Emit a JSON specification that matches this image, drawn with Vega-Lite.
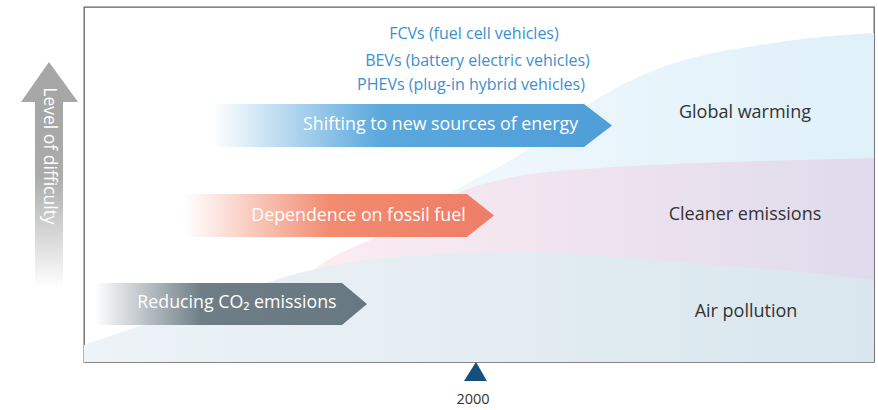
{
  "$schema": "https://vega.github.io/schema/vega-lite/v6.json",
  "width": 790,
  "height": 355,
  "autosize": {"type": "none"},
  "padding": {"left": 84, "top": 7, "right": 4, "bottom": 48},
  "background": "white",
  "view": {"stroke": "#5f5f5f", "strokeWidth": 1.3},
  "config": {"text": {"font": "Open Sans"}},
  "datasets": {
    "warming": [
      {"year": 1978.07, "level": 20.28},
      {"year": 1988.09, "level": 35.77},
      {"year": 1996.87, "level": 47.61},
      {"year": 2006.89, "level": 60.28},
      {"year": 2014.41, "level": 72.96},
      {"year": 2018.17, "level": 77.75},
      {"year": 2023.18, "level": 82.82},
      {"year": 2028.19, "level": 86.2},
      {"year": 2035.71, "level": 89.3},
      {"year": 2043.23, "level": 91.55},
      {"year": 2050, "level": 92.68}
    ],
    "cleaner": [
      {"year": 1976.82, "level": 20.28},
      {"year": 1979.7, "level": 25.92},
      {"year": 1988.59, "level": 36.34},
      {"year": 1995.61, "level": 45.35},
      {"year": 1999.0, "level": 48.73},
      {"year": 2004.76, "level": 52.11},
      {"year": 2015.66, "level": 54.65},
      {"year": 2028.19, "level": 56.06},
      {"year": 2040.73, "level": 56.9},
      {"year": 2050, "level": 57.46}
    ],
    "air": [
      {"year": 1951, "level": 4.79},
      {"year": 1965.54, "level": 15.77},
      {"year": 1979.45, "level": 25.92},
      {"year": 1988.59, "level": 29.3},
      {"year": 1996.87, "level": 30.42},
      {"year": 2006.89, "level": 30.99},
      {"year": 2015.66, "level": 29.86},
      {"year": 2028.19, "level": 27.61},
      {"year": 2040.73, "level": 25.35},
      {"year": 2050, "level": 23.1}
    ],
    "arrows": [
      {"arrow": "co2", "year": 1952.38, "level": 22.25, "level2": 10.42},
      {"arrow": "co2", "year": 1983.33, "level": 22.25, "level2": 10.42},
      {"arrow": "co2", "year": 1986.47, "level": 16.34, "level2": 16.34},
      {"arrow": "fossil", "year": 1963.66, "level": 47.32, "level2": 35.21},
      {"arrow": "fossil", "year": 1998.99, "level": 47.32, "level2": 35.21},
      {"arrow": "fossil", "year": 2002.38, "level": 41.27, "level2": 41.27},
      {"arrow": "energy", "year": 1967.04, "level": 72.68, "level2": 60.56},
      {"arrow": "energy", "year": 2013.66, "level": 72.68, "level2": 60.56},
      {"arrow": "energy", "year": 2017.17, "level": 66.62, "level2": 66.62},
      {"arrow": "marker", "year": 1998.62, "level": -5.35, "level2": -5.35},
      {"arrow": "marker", "year": 2000.12, "level": 0, "level2": -5.35},
      {"arrow": "marker", "year": 2001.5, "level": -5.35, "level2": -5.35}
    ],
    "difficultyBody": [
      {"year": 1944.86, "year2": 1948.37, "level": 73.24, "level2": 20.85}
    ],
    "difficultyHead": [
      {"level": 73.24, "year": 1943.11, "year2": 1950.25},
      {"level": 84.51, "year": 1946.61, "year2": 1946.61}
    ],
    "labels": [
      {"group": "arrow", "text": "Shifting to new sources of energy", "year": 1995.68, "level": 66.76},
      {"group": "arrow", "text": "Dependence on fossil fuel", "year": 1985.4, "level": 41.13},
      {"group": "arrow", "text": "Reducing CO₂ emissions", "year": 1970.17, "level": 16.6},
      {"group": "band", "text": "Global warming", "year": 2033.83, "level": 70.14},
      {"group": "band", "text": "Cleaner emissions", "year": 2033.83, "level": 41.41},
      {"group": "band", "text": "Air pollution", "year": 2033.96, "level": 14.08},
      {"group": "top", "text": "FCVs (fuel cell vehicles)", "year": 1999.87, "level": 92.39},
      {"group": "top", "text": "BEVs (battery electric vehicles)", "year": 2000.31, "level": 84.79},
      {"group": "top", "text": "PHEVs (plug-in hybrid vehicles)", "year": 1999.5, "level": 78.03},
      {"group": "axis", "text": "2000", "year": 1999.75, "level": -10.7},
      {"group": "vertical", "text": "Level of difficulty", "year": 1946.61, "level": 58.03}
    ]
  },
  "encoding": {
    "x": {"field": "year", "type": "quantitative", "scale": {"domain": [1951, 2050], "nice": false, "zero": false}, "axis": null},
    "y": {"field": "level", "type": "quantitative", "scale": {"domain": [0, 100], "nice": false, "zero": false}, "axis": null}
  },
  "layer": [
    {
      "data": {"name": "warming"},
      "mark": {"type": "area", "interpolate": "monotone", "color": {"gradient": "linear", "x1": 0, "y1": 0, "x2": 1, "y2": 0, "stops": [{"offset": 0, "color": "#f6fbfe"}, {"offset": 1, "color": "#dff0f9"}]}},
      "encoding": {"y": {"field": "level", "type": "quantitative", "stack": null}}
    },
    {
      "data": {"name": "cleaner"},
      "mark": {"type": "area", "interpolate": "monotone", "color": {"gradient": "linear", "x1": 0, "y1": 0, "x2": 1, "y2": 0, "stops": [{"offset": 0, "color": "#fdedf2"}, {"offset": 0.45, "color": "#f1e4ef"}, {"offset": 1, "color": "#dfdbec"}]}},
      "encoding": {"y": {"field": "level", "type": "quantitative", "stack": null}}
    },
    {
      "data": {"name": "air"},
      "mark": {"type": "area", "interpolate": "monotone", "color": {"gradient": "linear", "x1": 0, "y1": 0, "x2": 1, "y2": 0, "stops": [{"offset": 0, "color": "#edf3f7"}, {"offset": 1, "color": "#d9e6ee"}]}},
      "encoding": {"y": {"field": "level", "type": "quantitative", "stack": null}}
    },
    {
      "data": {"name": "arrows"},
      "transform": [{"filter": "datum.arrow === 'co2'"}],
      "mark": {"type": "area", "orient": "vertical", "color": {"gradient": "linear", "x1": 0, "y1": 0, "x2": 1, "y2": 0, "stops": [{"offset": 0, "color": "#ffffff"}, {"offset": 0.39, "color": "#6f7e86"}, {"offset": 1, "color": "#687880"}]}},
      "encoding": {"y2": {"field": "level2"}}
    },
    {
      "data": {"name": "arrows"},
      "transform": [{"filter": "datum.arrow === 'fossil'"}],
      "mark": {"type": "area", "orient": "vertical", "color": {"gradient": "linear", "x1": 0, "y1": 0, "x2": 1, "y2": 0, "stops": [{"offset": 0, "color": "#ffffff"}, {"offset": 0.47, "color": "#f28b70"}, {"offset": 1, "color": "#ee7d67"}]}},
      "encoding": {"y2": {"field": "level2"}}
    },
    {
      "data": {"name": "arrows"},
      "transform": [{"filter": "datum.arrow === 'energy'"}],
      "mark": {"type": "area", "orient": "vertical", "color": {"gradient": "linear", "x1": 0, "y1": 0, "x2": 1, "y2": 0, "stops": [{"offset": 0, "color": "#ffffff"}, {"offset": 0.42, "color": "#5ba8dd"}, {"offset": 1, "color": "#4f9ed8"}]}},
      "encoding": {"y2": {"field": "level2"}}
    },
    {
      "data": {"name": "arrows"},
      "transform": [{"filter": "datum.arrow === 'marker'"}],
      "mark": {"type": "area", "orient": "vertical", "color": "#14507e", "clip": false},
      "encoding": {"y2": {"field": "level2"}}
    },
    {
      "data": {"name": "difficultyBody"},
      "mark": {"type": "rect", "color": {"gradient": "linear", "x1": 0, "y1": 0, "x2": 0, "y2": 1, "stops": [{"offset": 0, "color": "#a6a6a6"}, {"offset": 0.4, "color": "#ababab"}, {"offset": 1, "color": "#ffffff"}]}},
      "encoding": {"x2": {"field": "year2"}, "y2": {"field": "level2"}}
    },
    {
      "data": {"name": "difficultyHead"},
      "mark": {"type": "area", "orient": "horizontal", "color": "#a7a7a7"},
      "encoding": {"x2": {"field": "year2"}}
    },
    {
      "data": {"name": "labels"},
      "transform": [{"filter": "datum.group === 'arrow'"}],
      "mark": {"type": "text", "color": "#ffffff", "fontSize": 17.8, "align": "center", "baseline": "middle"},
      "encoding": {"text": {"field": "text"}}
    },
    {
      "data": {"name": "labels"},
      "transform": [{"filter": "datum.group === 'band'"}],
      "mark": {"type": "text", "color": "#333333", "fontSize": 18, "align": "center", "baseline": "middle"},
      "encoding": {"text": {"field": "text"}}
    },
    {
      "data": {"name": "labels"},
      "transform": [{"filter": "datum.group === 'top'"}],
      "mark": {"type": "text", "color": "#3d8fcf", "fontSize": 16, "align": "center", "baseline": "middle"},
      "encoding": {"text": {"field": "text"}}
    },
    {
      "data": {"name": "labels"},
      "transform": [{"filter": "datum.group === 'axis'"}],
      "mark": {"type": "text", "color": "#333333", "fontSize": 14.5, "align": "center", "baseline": "middle"},
      "encoding": {"text": {"field": "text"}}
    },
    {
      "data": {"name": "labels"},
      "transform": [{"filter": "datum.group === 'vertical'"}],
      "mark": {"type": "text", "color": "#ffffff", "fontSize": 17.5, "angle": 90, "align": "center", "baseline": "middle"},
      "encoding": {"text": {"field": "text"}}
    }
  ]
}
